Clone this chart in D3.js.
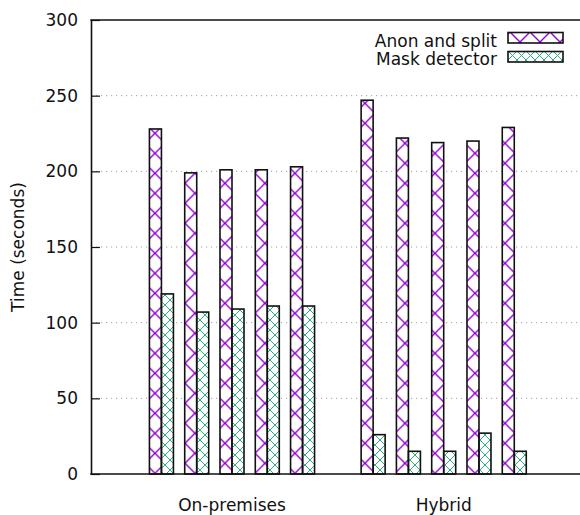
<!DOCTYPE html>
<html>
<head>
<meta charset="utf-8">
<script src="https://cdn.jsdelivr.net/npm/d3@7"></script>
<style>
    body { margin: 0; background: #fff; }
    text { font-family: 'DejaVu Sans', sans-serif; }
</style>
</head>
<body>
<div id="chart"></div>
<script>
const GROUPS = ['On-premises', 'Hybrid'];
const RUNS = ['1', '2', '3', '4', '5'];
const SERIES = ['Anon and split', 'Mask detector'];
// one row per group, one value per run
const ANON_SPLIT = [[228, 199, 201, 201, 203], [247, 222, 219, 220, 229]];
const MASK_DETECTOR = [[119, 107, 109, 111, 111], [26, 15, 15, 27, 15]];
const Y_TICKS = [0, 50, 100, 150, 200, 250, 300];
const Y_TITLE = 'Time (seconds)';

const width = 580;
const height = 515;
const margin = { top: 20, right: 0, bottom: 41, left: 91 };
const fontSize = 17;

const svg = d3.select('#chart')
    .append('svg')
    .attr('width', width)
    .attr('height', height);
const defs = svg.append('defs');

// hatch tiles: two diagonals crossing in the middle of the tile
const makeHatch = (id, size, color, lw, ox, oy) => {
    const p = defs.append('pattern')
        .attr('id', id)
        .attr('patternUnits', 'userSpaceOnUse')
        .attr('x', ox)
        .attr('y', oy)
        .attr('width', size)
        .attr('height', size);
    p.append('path')
        .attr('d', `M0,0L${size},${size}M${size},0L0,${size}M-1,-1L1,1M${size - 1},${size + 1}L${size + 1},${size - 1}`)
        .attr('stroke', color)
        .attr('stroke-width', lw)
        .attr('fill', 'none');
};
makeHatch('hatchAnon', 20, '#9400d3', 1.4, 145, 123.3);
makeHatch('hatchMask', 10, '#2fae82', 1, 0, 0);
makeHatch('hatchAnonKey', 20, '#9400d3', 1.4, 510, 32);
makeHatch('hatchMaskKey', 9, '#2fae82', 1, 508, 33);
const FILLS = ['url(#hatchAnon)', 'url(#hatchMask)'];
const KEY_FILLS = ['url(#hatchAnonKey)', 'url(#hatchMaskKey)'];

const y = d3.scaleLinear()
    .domain([0, 300])
    .range([height - margin.bottom, margin.top]);
const x0 = d3.scaleBand()
    .domain(GROUPS)
    .range([126.15, 549.55]);
const x1 = d3.scaleBand()
    .domain(RUNS)
    .range([0, x0.bandwidth()])
    .paddingOuter(0.5);
const x2 = d3.scaleBand()
    .domain(SERIES)
    .range([0, x1.bandwidth()])
    .paddingOuter(0.47);

// grid
svg.append('g')
    .selectAll('line')
    .data(Y_TICKS.filter((t) => t > 0 && t < 300))
    .enter()
    .append('line')
    .attr('x1', margin.left)
    .attr('x2', width)
    .attr('y1', (d) => y(d))
    .attr('y2', (d) => y(d))
    .attr('stroke', '#a0a0a0')
    .attr('stroke-width', 1)
    .attr('stroke-dasharray', '1.2,3.8');

// flatten values into bars
const bars = [];
GROUPS.forEach((g, gi) => {
    RUNS.forEach((r, ri) => {
        bars.push({ group: g, run: r, series: SERIES[0], si: 0, value: ANON_SPLIT[gi][ri] });
        bars.push({ group: g, run: r, series: SERIES[1], si: 1, value: MASK_DETECTOR[gi][ri] });
    });
});

const barG = svg.append('g');
barG.selectAll('rect.bg')
    .data(bars)
    .enter()
    .append('rect')
    .attr('class', 'bg')
    .attr('x', (d) => x0(d.group) + x1(d.run) + x2(d.series))
    .attr('y', (d) => y(d.value))
    .attr('width', x2.bandwidth())
    .attr('height', (d) => y(0) - y(d.value))
    .attr('fill', '#fff');
barG.selectAll('rect.bar')
    .data(bars)
    .enter()
    .append('rect')
    .attr('class', 'bar')
    .attr('x', (d) => x0(d.group) + x1(d.run) + x2(d.series))
    .attr('y', (d) => y(d.value))
    .attr('width', x2.bandwidth())
    .attr('height', (d) => y(0) - y(d.value))
    .attr('fill', (d) => FILLS[d.si])
    .attr('stroke', '#111')
    .attr('stroke-width', 1.6);

// y axis, ticks pointing inwards
const yAxis = svg.append('g')
    .attr('transform', `translate(${margin.left},0)`)
    .call(d3.axisLeft(y).tickValues(Y_TICKS).tickSizeInner(-9).tickSizeOuter(0).tickPadding(13));
yAxis.select('.domain').attr('stroke', '#111').attr('stroke-width', 1.6);
yAxis.selectAll('.tick line').attr('stroke', '#111').attr('stroke-width', 1.2);
yAxis.selectAll('.tick text')
    .attr('font-family', "'DejaVu Sans', sans-serif")
    .attr('font-size', fontSize)
    .attr('fill', '#111');

// x axis labels only
const xAxis = svg.append('g')
    .attr('transform', `translate(0,${y(0)})`)
    .call(d3.axisBottom(x0).tickSize(0).tickPadding(25));
xAxis.select('.domain').remove();
xAxis.selectAll('.tick text')
    .attr('font-family', "'DejaVu Sans', sans-serif")
    .attr('font-size', fontSize)
    .attr('fill', '#111');

// frame lines
svg.append('line')
    .attr('x1', margin.left - 0.8).attr('x2', width)
    .attr('y1', y(0)).attr('y2', y(0))
    .attr('stroke', '#111').attr('stroke-width', 1.6);
svg.append('line')
    .attr('x1', margin.left - 0.8).attr('x2', width)
    .attr('y1', y(300)).attr('y2', y(300))
    .attr('stroke', '#111').attr('stroke-width', 1.6);

// y title
svg.append('text')
    .attr('transform', `translate(18,247) rotate(-90)`)
    .attr('text-anchor', 'middle')
    .attr('dominant-baseline', 'central')
    .attr('font-size', fontSize)
    .attr('fill', '#111')
    .text(Y_TITLE);

// legend
const key = svg.append('g');
SERIES.forEach((s, i) => {
    key.append('text')
        .attr('x', 497)
        .attr('y', 46.5 + i * 18.5)
        .attr('text-anchor', 'end')
        .attr('font-size', fontSize)
        .attr('fill', '#111')
        .text(s);
    key.append('rect')
        .attr('x', 508)
        .attr('y', 32.5 + i * 19)
        .attr('width', 55)
        .attr('height', 10.5)
        .attr('fill', '#fff');
    key.append('rect')
        .attr('x', 508)
        .attr('y', 32.5 + i * 19)
        .attr('width', 55)
        .attr('height', 10.5)
        .attr('fill', KEY_FILLS[i])
        .attr('stroke', '#111')
        .attr('stroke-width', 1.6);
});
</script>
</body>
</html>
